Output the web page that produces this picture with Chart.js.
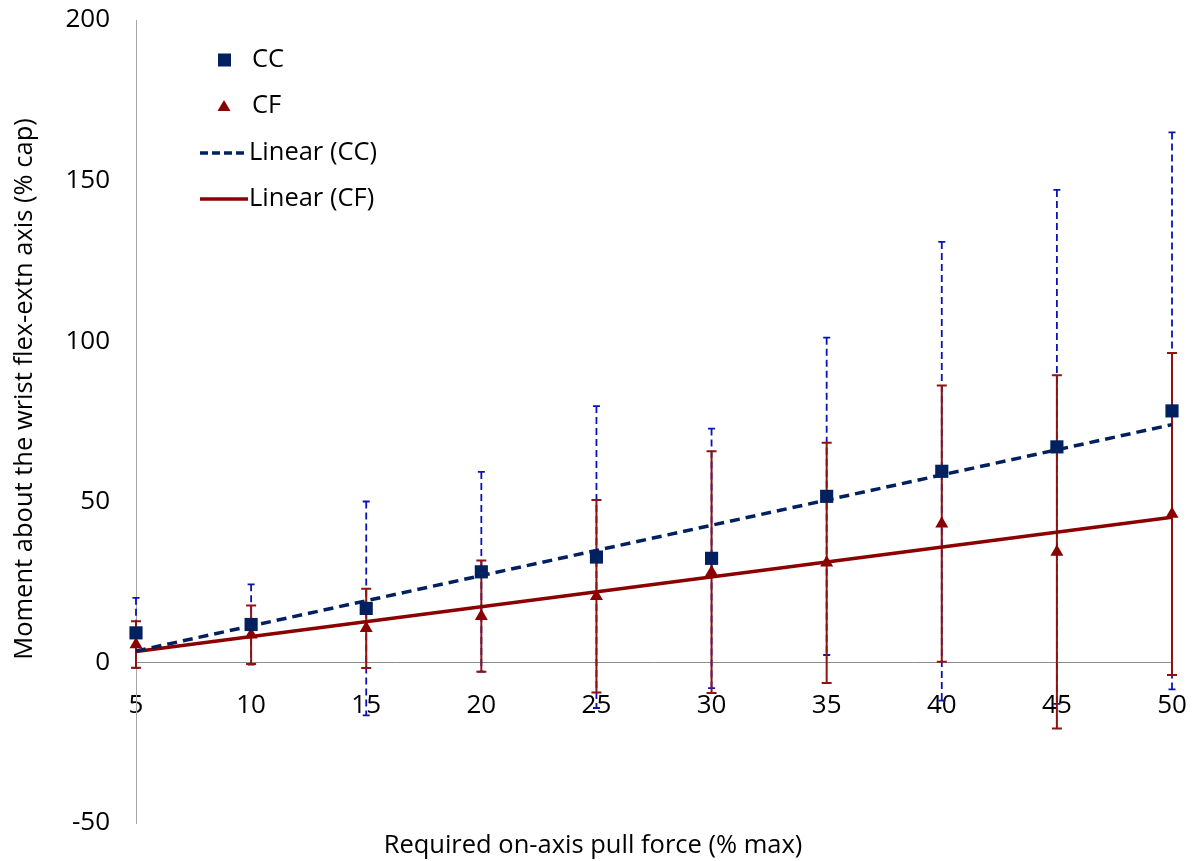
<!DOCTYPE html>
<html>
<head>
<meta charset="utf-8">
<script src="https://cdn.jsdelivr.net/npm/chart.js@4"></script>
<style>
  html, body { margin: 0; padding: 0; background: #ffffff; }
  #wrap { width: 1193px; height: 861px; position: relative; }
</style>
</head>
<body>
<div id="wrap"><canvas id="chart" width="1193" height="861"></canvas></div>
<script>
// Required on-axis pull force (% max)
const pullForce = [5, 10, 15, 20, 25, 30, 35, 40, 45, 50];

// CC: mean moment and standard deviation (% cap)
const ccMean = [9.2, 11.8, 16.8, 28.2, 32.8, 32.4, 51.7, 59.5, 67.1, 78.3];
const ccSD   = [10.9, 12.5, 33.3, 31.1, 47.0, 40.4, 49.4, 71.4, 80.0, 86.7];

// CF: mean moment and standard deviation (% cap)
const cfMean = [5.6, 8.6, 10.6, 14.4, 20.6, 28.1, 31.0, 43.2, 34.4, 46.2];
const cfSD   = [7.25, 9.1, 12.35, 17.3, 29.95, 37.6, 37.4, 43.0, 55.0, 50.1];

// Axis ticks
const yTicks = [-50, 0, 50, 100, 150, 200];
const xTicks = pullForce;

const seriesNames = ['CC', 'CF', 'Linear (CC)', 'Linear (CF)'];
const xTitle = 'Required on-axis pull force (% max)';
const yTitle = 'Moment about the wrist flex-extn axis (% cap)';

const NAVY = '#002060';
const RED = '#8B0000';
const BAR_BLUE = '#0A14B4';
const BAR_RED = '#8E1414';
const TXT_FONT = '"Open Sans", sans-serif';

// Least-squares trend line through the means
function linearFit(xs, ys) {
  const n = xs.length;
  const mx = xs.reduce((a, b) => a + b, 0) / n;
  const my = ys.reduce((a, b) => a + b, 0) / n;
  let sxy = 0, sxx = 0;
  for (let i = 0; i < n; i++) {
    sxy += (xs[i] - mx) * (ys[i] - my);
    sxx += (xs[i] - mx) * (xs[i] - mx);
  }
  const slope = sxy / sxx;
  const icpt = my - slope * mx;
  const x0 = xs[0], x1 = xs[n - 1];
  return [{ x: x0, y: icpt + slope * x0 }, { x: x1, y: icpt + slope * x1 }];
}

const pts = (xs, ys) => xs.map((x, i) => ({ x: x, y: ys[i] }));

// Keep the plot area defined by layout padding alone
function noScalePadding(s) {
  s.paddingLeft = 0;
  s.paddingRight = 0;
  s.paddingTop = 0;
  s.paddingBottom = 0;
}

// Vertical error bars drawn through the chart's own scales
const errorBars = {
  id: 'errorBars',
  beforeDatasetsDraw(chart) {
    const { ctx, scales: { x, y } } = chart;
    const groups = [
      { mean: ccMean, sd: ccSD, color: BAR_BLUE, width: 1.8, dash: [7, 4], cap: 3.5 },
      { mean: cfMean, sd: cfSD, color: BAR_RED, width: 2, dash: [], cap: 5 }
    ];
    ctx.save();
    groups.forEach(g => {
      ctx.strokeStyle = g.color;
      ctx.lineWidth = g.width;
      pullForce.forEach((xv, i) => {
        const px = x.getPixelForValue(xv);
        const top = y.getPixelForValue(g.mean[i] + g.sd[i]);
        const bot = y.getPixelForValue(g.mean[i] - g.sd[i]);
        ctx.setLineDash(g.dash);
        ctx.beginPath();
        ctx.moveTo(px, top);
        ctx.lineTo(px, bot);
        ctx.stroke();
        ctx.setLineDash([]);
        ctx.beginPath();
        ctx.moveTo(px - g.cap, top); ctx.lineTo(px + g.cap, top);
        ctx.moveTo(px - g.cap, bot); ctx.lineTo(px + g.cap, bot);
        ctx.stroke();
      });
    });
    ctx.restore();
  }
};

// Axis titles and the legend block
const decorations = {
  id: 'decorations',
  afterDraw(chart) {
    const { ctx } = chart;
    ctx.save();
    ctx.fillStyle = '#000000';
    ctx.font = '25.5px ' + TXT_FONT;
    ctx.textAlign = 'center';
    ctx.textBaseline = 'middle';
    ctx.fillText(xTitle, 593, 846);

    ctx.save();
    ctx.translate(25, 389);
    ctx.rotate(-Math.PI / 2);
    ctx.fillText(yTitle, 0, 0);
    ctx.restore();

    // legend
    ctx.font = '25.5px ' + TXT_FONT;
    ctx.textAlign = 'left';
    const rows = [60, 106, 153, 199];
    ctx.fillStyle = NAVY;
    ctx.fillRect(218, rows[0] - 6.5, 13, 13);
    ctx.fillStyle = RED;
    ctx.beginPath();
    ctx.moveTo(224, rows[1] - 6);
    ctx.lineTo(230.5, rows[1] + 5);
    ctx.lineTo(217.5, rows[1] + 5);
    ctx.closePath();
    ctx.fill();

    ctx.lineWidth = 3.5;
    ctx.strokeStyle = NAVY;
    ctx.setLineDash([8, 4]);
    ctx.beginPath(); ctx.moveTo(200, rows[2]); ctx.lineTo(248, rows[2]); ctx.stroke();
    ctx.setLineDash([]);
    ctx.strokeStyle = RED;
    ctx.beginPath(); ctx.moveTo(200, rows[3]); ctx.lineTo(248, rows[3]); ctx.stroke();

    ctx.fillStyle = '#000000';
    ctx.fillText(seriesNames[0], 252, rows[0]);
    ctx.fillText(seriesNames[1], 252, rows[1]);
    ctx.fillText(seriesNames[2], 249, rows[2]);
    ctx.fillText(seriesNames[3], 249, rows[3]);
    ctx.restore();
  }
};

new Chart(document.getElementById('chart'), {
  type: 'scatter',
  data: {
    datasets: [
      {
        label: seriesNames[0],
        data: pts(pullForce, ccMean),
        pointStyle: 'rect',
        pointRadius: 9.3,
        pointHoverRadius: 9.3,
        backgroundColor: NAVY,
        borderColor: NAVY,
        borderWidth: 0,
        showLine: false
      },
      {
        label: seriesNames[1],
        data: pts(pullForce, cfMean),
        pointStyle: 'triangle',
        pointRadius: 7.5,
        pointHoverRadius: 7.5,
        backgroundColor: RED,
        borderColor: RED,
        borderWidth: 0,
        showLine: false
      },
      {
        type: 'line',
        label: seriesNames[2],
        data: linearFit(pullForce, ccMean),
        borderColor: NAVY,
        borderWidth: 3.5,
        borderDash: [10, 6],
        pointRadius: 0,
        fill: false
      },
      {
        type: 'line',
        label: seriesNames[3],
        data: linearFit(pullForce, cfMean),
        borderColor: RED,
        borderWidth: 3.5,
        pointRadius: 0,
        fill: false
      }
    ]
  },
  options: {
    responsive: false,
    animation: false,
    events: [],
    layout: { autoPadding: false, padding: { left: 0, top: 20, right: 21, bottom: 38 } },
    plugins: {
      legend: { display: false },
      tooltip: { enabled: false }
    },
    elements: { point: { hitRadius: 0 } },
    clip: false,
    scales: {
      x: {
        type: 'linear',
        position: { y: 0 },
        min: 5,
        max: 50,
        afterBuildTicks: s => { s.ticks = xTicks.map(v => ({ value: v })); },
        afterFit: noScalePadding,
        grid: { display: false, drawTicks: false },
        border: { display: true, color: '#8c8c8c', width: 1 },
        ticks: {
          autoSkip: false,
          maxRotation: 0,
          padding: 28,
          color: '#000000',
          font: { family: '"Open Sans", sans-serif', size: 26 }
        }
      },
      y: {
        type: 'linear',
        position: 'left',
        min: -50,
        max: 200,
        afterBuildTicks: s => { s.ticks = yTicks.map(v => ({ value: v })); },
        afterFit: s => { noScalePadding(s); s.width = 136; },
        grid: { display: false, drawTicks: false },
        border: { display: true, color: '#a6a6a6', width: 1 },
        ticks: {
          padding: 26,
          color: '#000000',
          font: { family: '"Open Sans", sans-serif', size: 26 }
        }
      }
    }
  },
  plugins: [errorBars, decorations]
});
</script>
</body>
</html>
